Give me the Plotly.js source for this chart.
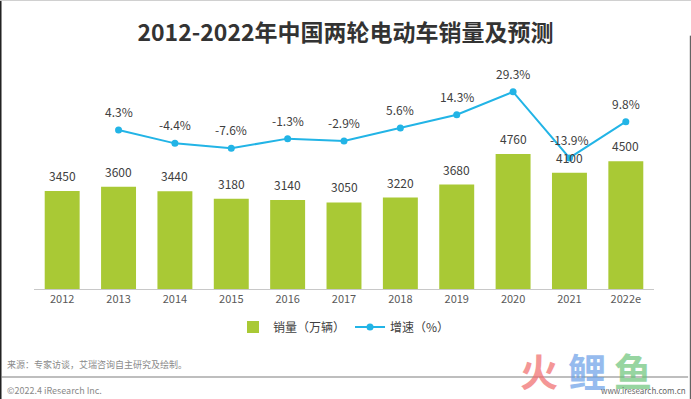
<!DOCTYPE html>
<html>
<head>
<meta charset="utf-8">
<script src="https://cdn.plot.ly/plotly-3.0.1.min.js"></script>
<style>html,body{margin:0;padding:0;background:#fff;}#chart{width:691px;height:399px;}</style>
</head>
<body>
<div id="chart"></div>
<script>
const years = ['2012','2013','2014','2015','2016','2017','2018','2019','2020','2021','2022e'];
const sales = [3450,3600,3440,3180,3140,3050,3220,3680,4760,4100,4500];
const growthYears = ['2013','2014','2015','2016','2017','2018','2019','2020','2021','2022e'];
const growth = [4.3,-4.4,-7.6,-1.3,-2.9,5.6,14.3,29.3,-13.9,9.8];
const seriesNames = ['销量（万辆）','增速（%）'];
const titleText = '2012-2022年中国两轮电动车销量及预测';
const sourceText = '来源：专家访谈，艾瑞咨询自主研究及绘制。';
const copyrightText = '©2022.4 iResearch Inc.';
const watermarkChars = ['火','鲤','鱼'];
const watermarkColors = ['#f06a6a','#6a9fe8','#6cc47a'];

const FONT = 'Noto Sans CJK SC, Noto Sans, sans-serif';
const barColor = '#a9c935';
const lineColor = '#22b4e6';

const traces = [
  {type:'bar', x:years, y:sales, name:seriesNames[0], marker:{color:barColor}, hoverinfo:'skip'},
  {type:'scatter', mode:'lines+markers', x:growthYears, y:growth, yaxis:'y2', name:seriesNames[1],
   line:{color:lineColor, width:2}, marker:{color:lineColor, size:7}, hoverinfo:'skip'}
];

const annotations = [];
// category axis: use the category index so numeric-looking labels are not read as numbers
years.forEach((y,i)=>annotations.push({x:i, y:sales[i], xref:'x', yref:'y', text:String(sales[i]),
  showarrow:false, yanchor:'bottom', yshift:5, font:{family:FONT, size:12, color:'#404040'}}));
growthYears.forEach((y,i)=>annotations.push({x:years.indexOf(y), y:growth[i], xref:'x', yref:'y2', text:growth[i].toFixed(1)+'%',
  showarrow:false, yanchor:'bottom', yshift:8, font:{family:FONT, size:12, color:'#404040'}}));

// footer texts
annotations.push({xref:'paper', yref:'paper', x:-0.047, y:-0.314, xanchor:'left', yanchor:'middle', showarrow:false,
  text:sourceText, font:{family:FONT, size:9, color:'#8a8a8a'}});
annotations.push({xref:'paper', yref:'paper', x:-0.047, y:-0.423, xanchor:'left', yanchor:'middle', showarrow:false,
  text:copyrightText, font:{family:FONT, size:9, color:'#8a8a8a'}});
// watermark
const wmX = [0.815, 0.892, 0.966];
watermarkChars.forEach((c,i)=>annotations.push({xref:'paper', yref:'paper', x:wmX[i], y:-0.335, xanchor:'center', yanchor:'middle',
  showarrow:false, text:'<b>'+c+'</b>', opacity:0.7, font:{family:FONT, size:38, color:watermarkColors[i]}}));
annotations.push({xref:'paper', yref:'paper', x:1.055, y:-0.423, xanchor:'right', yanchor:'middle', showarrow:false,
  text:'www.iresearch.com.cn', font:{family:FONT, size:8, color:'#666'}});

const layout = {
  width:691, height:399,
  margin:{l:34, r:37, t:50, b:110},
  paper_bgcolor:'#fff', plot_bgcolor:'#fff',
  font:{family:FONT, color:'#404040'},
  title:{text:'<b>'+titleText+'</b>', x:0.5, xref:'container', y:0.917, yref:'container', yanchor:'middle',
    font:{family:FONT, size:23, color:'#333'}},
  bargap:0.38,
  xaxis:{type:'category', range:[-0.5,10.5], showgrid:false, zeroline:false, showline:true, linecolor:'#c8c8c8', linewidth:1,
    ticks:'', tickfont:{family:FONT, size:11, color:'#595959'}, fixedrange:true},
  yaxis:{range:[0,8421], visible:false, showgrid:false, zeroline:false},
  yaxis2:{range:[-99.7,56.7], overlaying:'y', side:'right', visible:false, showgrid:false, zeroline:false},
  showlegend:true,
  legend:{orientation:'h', x:0.5, xanchor:'center', y:-0.159, yanchor:'middle', font:{family:FONT, size:12, color:'#404040'},
    itemwidth:30, traceorder:'normal'},
  annotations:annotations,
  shapes:[
    {type:'line', xref:'paper', yref:'paper', x0:-0.052, x1:1.055, y0:-0.368, y1:-0.368, line:{color:'#a8a8a8', width:1.5}},
    {type:'line', xref:'paper', yref:'paper', x0:-0.0540, x1:-0.0540, y0:-0.47, y1:1.22, line:{color:'#222', width:2}},
    {type:'line', xref:'paper', yref:'paper', x0:-0.055, x1:1.06, y0:1.207, y1:1.207, line:{color:'#d0d0d0', width:1}},
    {type:'line', xref:'paper', yref:'paper', x0:1.0586, x1:1.0586, y0:-0.47, y1:1.06, line:{color:'#444', width:1}}
  ]
};

Plotly.newPlot('chart', traces, layout, {displayModeBar:false, staticPlot:true});
</script>
</body>
</html>
